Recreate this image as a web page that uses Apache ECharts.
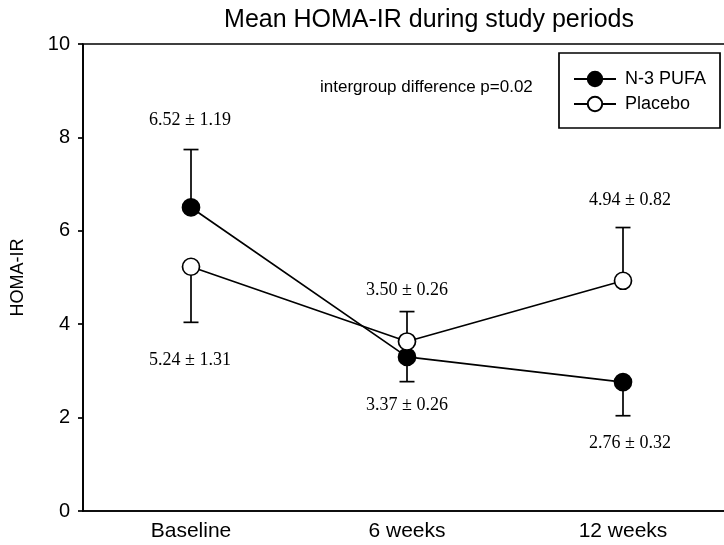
<!DOCTYPE html>
<html>
<head>
<meta charset="utf-8">
<script src="https://cdn.jsdelivr.net/npm/echarts@6/dist/echarts.min.js"></script>
<style>html,body{margin:0;padding:0;background:#fff}#c{width:724px;height:545px}</style>
</head>
<body>
<div id="c"></div>
<script>
const categories = ['Baseline', '6 weeks', '12 weeks'];
const n3Values = [6.5, 3.3, 2.76];
const placeboValues = [5.23, 3.63, 4.93];
const n3ErrEnds = [7.74, 2.77, 2.04];
const placeboErrEnds = [4.04, 4.27, 6.07];
const labelTexts = ['6.52 \u00b1 1.19', '5.24 \u00b1 1.31', '3.50 \u00b1 0.26', '3.37 \u00b1 0.26', '4.94 \u00b1 0.82', '2.76 \u00b1 0.32'];
const labelCats = [0, 0, 1, 1, 2, 2];
const labelYs = [8.37, 3.23, 4.72, 2.27, 6.66, 1.46];
const yTicks = [0, 2, 4, 6, 8, 10];

const chart = echarts.init(document.getElementById('c'));
const SANS = 'Liberation Sans';
const SERIF = 'Liberation Serif';
const LW = 1.7;

function errSeries(name, values, ends) {
  return {
    type: 'custom', name: name + ' err', z: 1, silent: true,
    data: values.map((v, i) => [i, v, ends[i]]),
    renderItem: function (params, api) {
      const p0 = api.coord([api.value(0), api.value(1)]);
      const p1 = api.coord([api.value(0), api.value(2)]);
      const st = { stroke: '#000', lineWidth: LW };
      return { type: 'group', children: [
        { type: 'line', shape: { x1: p0[0], y1: p0[1], x2: p1[0], y2: p1[1] }, style: st },
        { type: 'line', shape: { x1: p1[0] - 7.5, y1: p1[1], x2: p1[0] + 7.5, y2: p1[1] }, style: st }
      ]};
    }
  };
}

const labelData = labelTexts.map((t, i) => [labelCats[i], labelYs[i], t]);

chart.setOption({
  animation: false,
  backgroundColor: '#fff',
  title: {
    text: 'Mean HOMA-IR during study periods',
    left: 424, top: 3, textAlign: 'center',
    textStyle: { fontFamily: SANS, fontSize: 25, fontWeight: 'normal', color: '#000' }
  },
  grid: { left: 83, top: 44, right: -7, bottom: 34, outerBoundsMode: 'none', containLabel: false,
    show: true, borderColor: '#000', borderWidth: LW, backgroundColor: 'transparent' },
  legend: {
    orient: 'vertical', left: 559, top: 53,
    padding: [17, 14, 15, 14], itemGap: 7, itemWidth: 42, itemHeight: 18,
    borderColor: '#000', borderWidth: LW,
    data: ['N-3 PUFA', 'Placebo'],
    textStyle: { fontFamily: SANS, fontSize: 18, color: '#000', padding: [0, 0, 0, 4] }
  },
  xAxis: {
    type: 'category', data: categories, boundaryGap: true,
    axisLine: { lineStyle: { color: '#000', width: LW } },
    axisTick: { alignWithLabel: true, length: 8, lineStyle: { color: '#000', width: LW } },
    axisLabel: { fontFamily: SANS, fontSize: 21, color: '#000', margin: 10 },
    splitLine: { show: false }
  },
  yAxis: {
    type: 'value', min: yTicks[0], max: yTicks[yTicks.length - 1], interval: 2,
    name: 'HOMA-IR', nameLocation: 'middle', nameRotate: 90, nameGap: 56,
    nameTextStyle: { fontFamily: SANS, fontSize: 18, color: '#000' },
    axisLine: { show: true, lineStyle: { color: '#000', width: LW } },
    axisTick: { show: true, length: 5, lineStyle: { color: '#000', width: LW } },
    axisLabel: { fontFamily: SANS, fontSize: 20, color: '#000', margin: 13 },
    splitLine: { show: false }
  },
  graphic: [{
    type: 'text', left: 320, top: 79,
    style: { text: 'intergroup difference p=0.02', fontFamily: SANS, fontSize: 17, fill: '#000' }
  }],
  series: [
    errSeries('N-3 PUFA', n3Values, n3ErrEnds),
    errSeries('Placebo', placeboValues, placeboErrEnds),
    {
      name: 'N-3 PUFA', type: 'line', data: n3Values, z: 3,
      symbol: 'circle', symbolSize: 17,
      lineStyle: { color: '#000', width: LW },
      itemStyle: { color: '#000', borderColor: '#000', borderWidth: LW }
    },
    {
      name: 'Placebo', type: 'line', data: placeboValues, z: 4,
      symbol: 'circle', symbolSize: 17,
      lineStyle: { color: '#000', width: LW },
      itemStyle: { color: '#fff', borderColor: '#000', borderWidth: LW }
    },
    {
      type: 'custom', name: 'labels', z: 5, silent: true,
      data: labelData,
      renderItem: function (params, api) {
        const p = api.coord([api.value(0), api.value(1)]);
        const i = params.dataIndex;
        const dx = labelCats[i] === 2 ? 7 : (labelCats[i] === 0 ? -1 : 0);
        return { type: 'text', x: p[0] + dx, y: p[1], style: {
          text: labelTexts[i], fontFamily: SERIF, fontSize: 18, fill: '#000',
          align: 'center', verticalAlign: 'middle' } };
      }
    }
  ]
});
</script>
</body>
</html>
